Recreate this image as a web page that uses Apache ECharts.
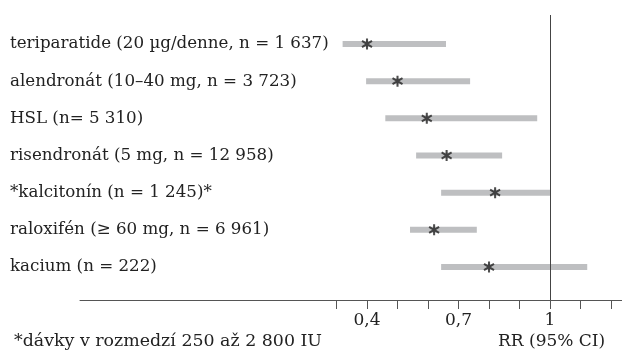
<!DOCTYPE html>
<html>
<head>
<meta charset="utf-8">
<script src="https://cdn.jsdelivr.net/npm/echarts@6/dist/echarts.min.js"></script>
<style>html,body{margin:0;padding:0;background:#fff}#c{width:622px;height:364px}</style>
</head>
<body>
<div id="c"></div>
<script>
const categories = [
  'teriparatide (20 µg/denne, n = 1 637)',
  'alendronát (10–40 mg, n = 3 723)',
  'HSL (n= 5 310)',
  'risendronát (5 mg, n = 12 958)',
  '*kalcitonín (n = 1 245)*',
  'raloxifén (≥ 60 mg, n = 6 961)',
  'kacium (n = 222)'
];
const rowIndex = [1, 2, 3, 4, 5, 6, 7];
const lower = [0.32, 0.397, 0.46, 0.561, 0.643, 0.541, 0.643];
const upper = [0.659, 0.738, 0.958, 0.843, 1.0, 0.76, 1.122];
const estimate = [0.40, 0.50, 0.596, 0.661, 0.82, 0.62, 0.80];
const xTicks = [0.3, 0.4, 0.5, 0.6, 0.7, 0.8, 0.9, 1.0, 1.1, 1.2];
const xTickLabels = [0.4, 0.7, 1];
const footnote = '*dávky v rozmedzí 250 až 2 800 IU';
const axisTitle = 'RR (95% CI)';

const FONT = '"DejaVu Serif", serif';
const asterisk = 'path://M41 0L59 0L59 100L41 100Z M1.7 30.1L10.7 14.5L98.3 69.9L89.3 85.5Z M89.3 14.5L98.3 30.1L10.7 85.5L1.7 69.9Z';

const chart = echarts.init(document.getElementById('c'));
chart.setOption({
  animation: false,
  grid: { left: 80, right: 0, top: 15, bottom: 64 },
  xAxis: {
    type: 'value', min: -0.541, max: 1.236,
    axisLine: { show: true, lineStyle: { color: '#555', width: 1 } },
    axisTick: { show: true, customValues: xTicks, length: 9, lineStyle: { color: '#555' } },
    axisLabel: { customValues: xTickLabels, margin: 12, color: '#222', fontFamily: FONT, fontSize: 17,
      formatter: v => String(v).replace('.', ',') },
    splitLine: { show: false }
  },
  yAxis: {
    type: 'value', inverse: true, min: 0.22, max: 7.887,
    axisLine: { show: false }, axisTick: { show: false }, splitLine: { show: false },
    axisLabel: { customValues: rowIndex, align: 'left', margin: 70, color: '#222', fontFamily: FONT, fontSize: 16.7,
      formatter: v => categories[Math.round(v) - 1] || '' }
  },
  series: [
    {
      type: 'custom',
      data: rowIndex.map((r, i) => [lower[i], upper[i], r]),
      encode: { x: [0, 1], y: 2 },
      renderItem: function (params, api) {
        const p1 = api.coord([api.value(0), api.value(2)]);
        const p2 = api.coord([api.value(1), api.value(2)]);
        return { type: 'rect', shape: { x: p1[0], y: p1[1] - 3, width: p2[0] - p1[0], height: 6 },
          style: { fill: '#bebfc1' } };
      },
      silent: true
    },
    {
      type: 'scatter',
      data: rowIndex.map((r, i) => [estimate[i], r]),
      symbol: asterisk, symbolSize: 11,
      itemStyle: { color: '#222' },
      silent: true,
      markLine: {
        silent: true, symbol: 'none', label: { show: false },
        lineStyle: { color: '#444', width: 1, type: 'solid' },
        data: [{ xAxis: 1 }]
      }
    }
  ],
  graphic: [
    { type: 'text', left: 14, top: 333, style: { text: footnote, font: '17.4px ' + FONT, fill: '#222' } },
    { type: 'text', left: 498, top: 333, style: { text: axisTitle, font: '17px ' + FONT, fill: '#222' } }
  ]
});
</script>
</body>
</html>
